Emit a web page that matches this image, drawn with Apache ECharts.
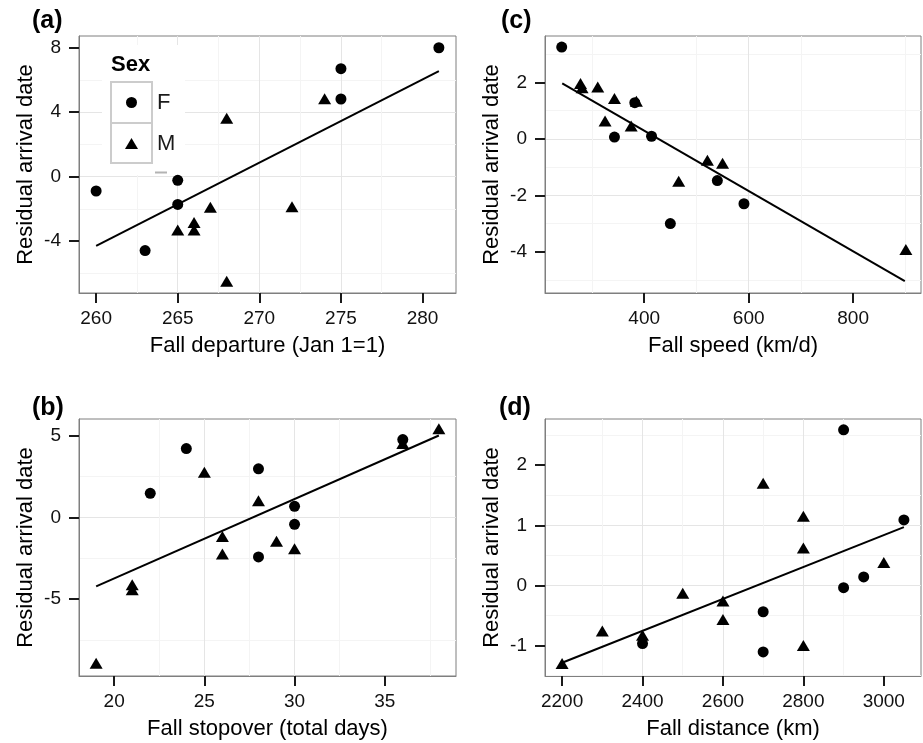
<!DOCTYPE html>
<html><head><meta charset="utf-8">
<script src="https://cdn.jsdelivr.net/npm/echarts@6/dist/echarts.min.js"></script>
<style>html,body{margin:0;padding:0;background:#fff}#chart{width:923px;height:743px}</style>
</head><body><div id="chart"></div>
<script>
// ---- Panel (a): Fall departure ----
const depF_x = [260, 263, 265, 265, 275, 275, 281];
const depF_y = [-0.89, -4.59, -0.23, -1.72, 6.70, 4.82, 8.00];
const depM_x = [265, 266, 266, 267, 268, 268, 272, 274];
const depM_y = [-3.31, -2.85, -3.31, -1.90, 3.62, -6.49, -1.86, 4.84];
const depFit_x = [260, 281];
const depFit_y = [-4.30, 6.55];
const depTicksX = [260, 265, 270, 275, 280];
const depTicksY = [-4, 0, 4, 8];

// ---- Panel (b): Fall stopover ----
const stopF_x = [22, 24, 28, 28, 30, 30, 36];
const stopF_y = [1.47, 4.21, 2.97, -2.43, 0.67, -0.43, 4.76];
const stopM_x = [19, 21, 21, 25, 26, 26, 28, 29, 30, 36, 38];
const stopM_y = [-8.94, -4.13, -4.44, 2.76, -1.17, -2.25, 1.02, -1.47, -1.92, 4.52, 5.42];
const stopFit_x = [19, 38];
const stopFit_y = [-4.23, 5.01];
const stopTicksX = [20, 25, 30, 35];
const stopTicksY = [-5, 0, 5];

// ---- Panel (c): Fall speed ----
const speedF_x = [242, 343, 382, 414, 450, 540, 591];
const speedF_y = [3.25, 0.06, 1.28, 0.09, -3.00, -1.48, -2.30];
const speedM_x = [278, 281, 311, 343, 325, 375, 385, 521, 550, 466, 901];
const speedM_y = [1.96, 1.81, 1.83, 1.43, 0.63, 0.45, 1.33, -0.76, -0.87, -1.50, -3.92];
const speedFit_x = [243, 899];
const speedFit_y = [1.96, -5.04];
const speedTicksX = [400, 600, 800];
const speedTicksY = [-4, -2, 0, 2];

// ---- Panel (d): Fall distance ----
const distF_x = [2400, 2700, 2700, 2900, 2900, 2950, 3050];
const distF_y = [-0.97, -0.44, -1.11, 2.59, -0.04, 0.14, 1.09];
const distM_x = [2200, 2300, 2400, 2500, 2600, 2600, 2700, 2800, 2800, 2800, 3000];
const distM_y = [-1.30, -0.76, -0.83, -0.13, -0.26, -0.57, 1.70, 1.15, 0.62, -1.00, 0.38];
const distFit_x = [2200, 3050];
const distFit_y = [-1.29, 0.97];
const distTicksX = [2200, 2400, 2600, 2800, 3000];
const distTicksY = [-1, 0, 1, 2];

const panelLabels = ['(a)', '(b)', '(c)', '(d)'];
const xNames = ['Fall departure (Jan 1=1)', 'Fall stopover (total days)', 'Fall speed (km/d)', 'Fall distance (km)'];
const yName = 'Residual arrival date';
const sexLevels = ['F', 'M'];

const FONT = '"Liberation Sans", Arial, Helvetica, sans-serif';
const pair = (xs, ys) => xs.map((x, i) => [x, ys[i]]);

const grids = [
  {left: 79, top: 36, width: 377, height: 257},
  {left: 79, top: 419, width: 377, height: 257},
  {left: 545, top: 36, width: 376, height: 257},
  {left: 545, top: 419, width: 376, height: 257}
].map(g => Object.assign(g, {show: true, borderColor: '#7f7f7f', borderWidth: 1, backgroundColor: '#fff', containLabel: false, outerBoundsMode: 'none'}));

function axis(dim, gi, min, max, step, ticks, name) {
  const isX = dim === 'x';
  return {
    type: 'value', gridIndex: gi, min: min, max: max,
    minInterval: step, maxInterval: step,
    position: isX ? 'bottom' : 'left',
    name: name, nameLocation: 'middle', nameGap: 42, nameMoveOverlap: false,
    nameTextStyle: {fontFamily: FONT, fontSize: 22, color: '#000'},
    axisLine: {show: true, onZero: false, lineStyle: {color: '#7f7f7f', width: 1}},
    axisTick: {show: true, inside: false, length: 10, customValues: ticks, lineStyle: {color: '#1a1a1a', width: 2}},
    axisLabel: {show: true, customValues: ticks, margin: isX ? 16 : 18, fontFamily: FONT, fontSize: 19, color: '#111',
      formatter: v => String(v)},
    splitLine: {show: true, showMinLine: false, showMaxLine: false, lineStyle: {color: '#e5e5e5', width: 1}},
    minorTick: {show: false, splitNumber: 2},
    minorSplitLine: {show: true, lineStyle: {color: '#f4f4f4', width: 1}}
  };
}

const xAxes = [
  axis('x', 0, 258.95, 282.05, 5, depTicksX, xNames[0]),
  axis('x', 1, 18.05, 38.95, 5, stopTicksX, xNames[1]),
  axis('x', 2, 210, 930, 200, speedTicksX, xNames[2]),
  axis('x', 3, 2157.5, 3092.5, 200, distTicksX, xNames[3])
];
const yAxes = [
  axis('y', 0, -7.22, 8.73, 4, depTicksY, yName),
  axis('y', 1, -9.72, 6.02, 5, stopTicksY, yName),
  axis('y', 2, -5.46, 3.64, 2, speedTicksY, yName),
  axis('y', 3, -1.51, 2.77, 1, distTicksY, yName)
];

const panels = [
  [depF_x, depF_y, depM_x, depM_y, depFit_x, depFit_y],
  [stopF_x, stopF_y, stopM_x, stopM_y, stopFit_x, stopFit_y],
  [speedF_x, speedF_y, speedM_x, speedM_y, speedFit_x, speedFit_y],
  [distF_x, distF_y, distM_x, distM_y, distFit_x, distFit_y]
];

const series = [];
panels.forEach((p, i) => {
  series.push({type: 'line', name: 'fit', xAxisIndex: i, yAxisIndex: i, data: pair(p[4], p[5]),
    showSymbol: false, symbol: 'none', lineStyle: {color: '#000', width: 2}, z: 2, silent: true, animation: false});
  series.push({type: 'scatter', name: sexLevels[0], xAxisIndex: i, yAxisIndex: i, data: pair(p[0], p[1]),
    symbol: 'circle', symbolSize: 11, itemStyle: {color: '#000', opacity: 1}, z: 3, animation: false});
  series.push({type: 'scatter', name: sexLevels[1], xAxisIndex: i, yAxisIndex: i, data: pair(p[2], p[3]),
    symbol: 'triangle', symbolSize: [13, 11], itemStyle: {color: '#000', opacity: 1}, z: 3, animation: false});
});

const titlePos = [[32, 9], [32, 396], [501, 9], [499, 396]];
const titles = panelLabels.map((t, i) => ({
  text: t, left: titlePos[i][0], top: titlePos[i][1], padding: 0,
  textStyle: {fontFamily: FONT, fontSize: 25, fontWeight: 'bold', color: '#000'}
}));

const option = {
  animation: false,
  backgroundColor: '#fff',
  title: titles,
  grid: grids,
  xAxis: xAxes,
  yAxis: yAxes,
  legend: {
    show: true, orient: 'vertical', left: 111, top: 82, padding: 0, itemGap: 0,
    itemWidth: 41, itemHeight: 41, selectedMode: false, z: 6,
    textStyle: {fontFamily: FONT, fontSize: 22, color: '#1a1a1a'},
    itemStyle: {opacity: 1},
    data: [
      {name: sexLevels[0], icon: 'path://M0 0M41 41M26 20.5A5.5 5.5 0 1 1 15 20.5A5.5 5.5 0 1 1 26 20.5Z'},
      {name: sexLevels[1], icon: 'path://M0 0M41 41M20.5 15L27 26L14 26Z'}
    ]
  },
  graphic: [
    {type: 'rect', shape: {x: 102, y: 45, width: 83, height: 130}, style: {fill: '#fff'}, z: 1, silent: true},
    {type: 'rect', shape: {x: 111, y: 82, width: 41, height: 41}, style: {fill: 'none', stroke: '#cccccc', lineWidth: 2}, z: 5, silent: true},
    {type: 'rect', shape: {x: 111, y: 123, width: 41, height: 40}, style: {fill: 'none', stroke: '#cccccc', lineWidth: 2}, z: 5, silent: true},
    {type: 'text', x: 111, y: 54, z: 5, silent: true,
      style: {text: 'Sex', fontFamily: FONT, fontSize: 22, fontWeight: 'bold', fill: '#000', verticalAlign: 'top'}},
    {type: 'line', shape: {x1: 155, y1: 172.5, x2: 167, y2: 172.5}, style: {stroke: '#b3b3b3', lineWidth: 2}, z: 5, silent: true}
  ],
  series: series
};

const chart = echarts.init(document.getElementById('chart'), null, {renderer: 'canvas'});
chart.setOption(option);
</script></body></html>
